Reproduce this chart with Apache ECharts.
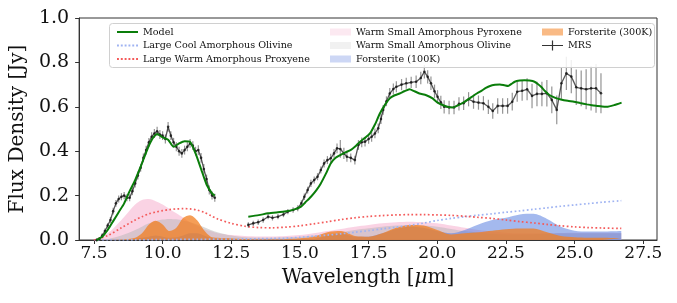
<!DOCTYPE html>
<html><head><meta charset="utf-8">
<script src="https://cdn.jsdelivr.net/npm/echarts@6/dist/echarts.min.js"></script>
<style>html,body{margin:0;padding:0;background:#fff}#c{width:677px;height:303px}</style>
</head><body><div id="c"></div>
<script>
// ---- data ----
const xTicks = [7.5, 10.0, 12.5, 15.0, 17.5, 20.0, 22.5, 25.0, 27.5];
const yTicks = [0.0, 0.2, 0.4, 0.6, 0.8, 1.0];

// MRS spectrum, channel 1 segment
const mrs1Wl  = [7.6,7.7,7.8,7.9,8.0,8.1,8.2,8.3,8.4,8.5,8.6,8.7,8.8,8.9,9.0,9.1,9.2,9.3,9.4,9.5,9.6,9.7,9.8,9.9,10.0,10.1,10.2,10.3,10.4,10.5,10.6,10.7,10.8,10.9,11.0,11.1,11.2,11.3,11.4,11.5,11.6,11.7,11.8,11.9];
const mrs1Flux= [0.0,0.005,0.02,0.04,0.065,0.09,0.13,0.165,0.185,0.195,0.2,0.19,0.19,0.22,0.255,0.29,0.325,0.37,0.405,0.44,0.465,0.48,0.49,0.475,0.47,0.455,0.51,0.47,0.44,0.42,0.4,0.39,0.405,0.42,0.435,0.425,0.4,0.405,0.37,0.32,0.275,0.225,0.2,0.19];
const mrs1Err = [0.008,0.008,0.01,0.012,0.012,0.014,0.015,0.015,0.016,0.016,0.016,0.016,0.016,0.018,0.018,0.018,0.018,0.02,0.02,0.02,0.02,0.02,0.02,0.02,0.02,0.02,0.022,0.02,0.02,0.02,0.02,0.02,0.02,0.02,0.02,0.02,0.02,0.022,0.022,0.022,0.02,0.02,0.018,0.018];

// MRS spectrum, channels 2-4 segment
const mrs2Wl  = [13.12,13.3,13.48,13.66,13.84,14.0,14.2,14.4,14.56,14.75,14.92,15.05,15.16,15.28,15.4,15.52,15.64,15.76,15.88,16.0,16.12,16.24,16.35,16.47,16.6,16.71,16.85,17.0,17.13,17.25,17.37,17.5,17.61,17.73,17.85,17.95,18.03,18.15,18.27,18.4,18.51,18.7,18.87,19.05,19.23,19.4,19.53,19.65,19.77,19.9,20.01,20.13,20.25,20.43,20.61,20.79,20.96,21.14,21.32,21.5,21.68,21.86,22.02,22.2,22.38,22.56,22.73,22.91,23.09,23.27,23.45,23.63,23.81,23.99,24.17,24.35,24.52,24.7,24.88,25.06,25.24,25.42,25.6,25.78,25.96];
const mrs2Flux= [0.068,0.075,0.08,0.09,0.105,0.1,0.105,0.115,0.128,0.135,0.143,0.165,0.195,0.225,0.255,0.27,0.285,0.315,0.345,0.36,0.368,0.39,0.413,0.41,0.39,0.375,0.37,0.36,0.428,0.44,0.443,0.455,0.465,0.48,0.503,0.545,0.586,0.625,0.66,0.68,0.69,0.7,0.706,0.71,0.713,0.73,0.758,0.735,0.706,0.67,0.645,0.62,0.6,0.597,0.597,0.613,0.616,0.634,0.623,0.619,0.616,0.6,0.581,0.604,0.604,0.604,0.623,0.668,0.672,0.679,0.649,0.658,0.658,0.661,0.631,0.586,0.706,0.751,0.736,0.688,0.683,0.679,0.683,0.683,0.661];
const mrs2Err = [0.012,0.012,0.012,0.012,0.012,0.012,0.012,0.012,0.012,0.012,0.014,0.014,0.015,0.015,0.016,0.016,0.016,0.016,0.018,0.018,0.02,0.02,0.022,0.04,0.025,0.022,0.02,0.02,0.022,0.022,0.022,0.022,0.022,0.022,0.022,0.022,0.022,0.022,0.025,0.025,0.025,0.025,0.025,0.025,0.028,0.028,0.03,0.03,0.03,0.03,0.03,0.03,0.03,0.03,0.03,0.03,0.03,0.032,0.032,0.032,0.032,0.032,0.035,0.035,0.035,0.035,0.04,0.045,0.045,0.05,0.055,0.055,0.055,0.06,0.06,0.065,0.07,0.075,0.075,0.08,0.08,0.09,0.1,0.11,0.09];

// Model
const model1Wl  = [7.6,7.8,8.0,8.2,8.4,8.6,8.8,9.0,9.2,9.4,9.6,9.8,10.0,10.2,10.4,10.6,10.8,11.0,11.2,11.4,11.6,11.8,11.9];
const model1Flux= [0.0,0.015,0.045,0.085,0.125,0.165,0.22,0.27,0.33,0.395,0.45,0.478,0.462,0.452,0.42,0.435,0.445,0.442,0.39,0.32,0.25,0.21,0.2];
const model2Wl  = [13.12,13.5,13.84,14.2,14.44,14.8,15.04,15.2,15.4,15.6,15.76,15.95,16.12,16.3,16.48,16.66,16.84,17.0,17.19,17.37,17.55,17.73,17.91,18.1,18.27,18.45,18.63,18.8,18.99,19.17,19.35,19.6,19.83,20.0,20.19,20.37,20.55,20.73,20.9,21.08,21.26,21.44,21.62,21.77,21.92,22.1,22.28,22.45,22.58,22.7,22.82,23.0,23.18,23.36,23.54,23.66,23.78,23.93,24.08,24.3,24.5,24.75,24.98,25.2,25.45,25.63,25.81,26.0,26.17,26.45,26.71];
const model2Flux= [0.105,0.112,0.12,0.125,0.128,0.138,0.15,0.17,0.195,0.225,0.255,0.3,0.345,0.37,0.383,0.395,0.405,0.42,0.443,0.46,0.48,0.52,0.57,0.61,0.638,0.652,0.66,0.67,0.679,0.67,0.66,0.652,0.638,0.62,0.608,0.6,0.597,0.605,0.616,0.63,0.645,0.66,0.673,0.685,0.694,0.699,0.701,0.697,0.694,0.703,0.713,0.718,0.72,0.718,0.713,0.703,0.69,0.67,0.653,0.64,0.633,0.627,0.623,0.617,0.611,0.607,0.604,0.601,0.6,0.608,0.619];

// Dust components (shared wavelength grid)
const compWl = [7.5,8.0,8.5,9.0,9.25,9.5,9.75,10.0,10.25,10.5,10.75,11.0,11.25,11.5,11.75,12.0,12.5,13.0,13.5,14.0,14.5,15.0,15.5,16.0,16.5,17.0,17.5,18.0,18.5,19.0,19.5,20.0,20.5,21.0,21.5,22.0,22.5,23.0,23.5,24.0,24.5,25.0,25.5,26.0,26.7];
const largeCoolOlivine = [0,0,0,0.001,0.001,0.001,0.002,0.002,0.002,0.002,0.003,0.003,0.003,0.003,0.004,0.004,0.004,0.005,0.006,0.007,0.008,0.012,0.017,0.022,0.028,0.035,0.042,0.05,0.058,0.066,0.076,0.088,0.097,0.105,0.112,0.118,0.125,0.131,0.138,0.145,0.152,0.158,0.164,0.17,0.177];
const largeWarmPyroxene = [0,0.02,0.055,0.09,0.105,0.118,0.126,0.132,0.137,0.14,0.141,0.14,0.135,0.125,0.11,0.095,0.075,0.062,0.056,0.055,0.058,0.064,0.073,0.082,0.092,0.1,0.106,0.11,0.113,0.114,0.114,0.113,0.111,0.107,0.102,0.097,0.09,0.083,0.077,0.07,0.064,0.059,0.056,0.054,0.052];
const warmSmallPyroxene = [0,0.03,0.09,0.16,0.18,0.185,0.175,0.16,0.14,0.12,0.1,0.08,0.065,0.05,0.04,0.03,0.022,0.018,0.016,0.016,0.018,0.022,0.03,0.04,0.05,0.06,0.068,0.075,0.08,0.082,0.08,0.075,0.065,0.055,0.045,0.038,0.033,0.03,0.03,0.03,0.032,0.033,0.033,0.033,0.032];
const warmSmallOlivine = [0,0.005,0.02,0.045,0.06,0.075,0.085,0.092,0.095,0.093,0.088,0.08,0.07,0.058,0.045,0.035,0.02,0.012,0.01,0.01,0.012,0.015,0.02,0.028,0.035,0.045,0.053,0.06,0.065,0.067,0.065,0.06,0.05,0.04,0.033,0.028,0.025,0.025,0.026,0.028,0.03,0.03,0.03,0.03,0.03];
const forsterite100 = [0,0,0,0.005,0.01,0.015,0.02,0.015,0.01,0.012,0.02,0.03,0.03,0.02,0.01,0.006,0.004,0.003,0.003,0.003,0.004,0.004,0.005,0.02,0.03,0.015,0.015,0.03,0.05,0.06,0.055,0.04,0.03,0.045,0.07,0.09,0.1,0.115,0.118,0.095,0.06,0.042,0.038,0.038,0.04];
const forsterite300 = [0,0,0.002,0.01,0.03,0.07,0.087,0.07,0.04,0.055,0.1,0.112,0.09,0.045,0.015,0.01,0.008,0.004,0.003,0.003,0.005,0.008,0.015,0.035,0.04,0.018,0.015,0.03,0.055,0.068,0.065,0.045,0.025,0.03,0.035,0.042,0.048,0.052,0.052,0.035,0.018,0.012,0.01,0.01,0.008];

// ---- build ----
const zip = (a, b) => a.map((v, i) => [v, b[i]]);
const zip3 = (a, b, c) => a.map((v, i) => [v, b[i], c[i]]);
const SERIF = '"DejaVu Serif", serif';

function area(name, ys, color, opacity, z) {
  return {
    name, type: 'line', data: zip(compWl, ys), smooth: 0.3, symbol: 'none',
    lineStyle: { width: 0 }, itemStyle: { color: color, opacity: opacity },
    areaStyle: { color: color, opacity: opacity, origin: 'start' }, z: z, silent: true
  };
}
function dotted(name, ys, color, z) {
  return {
    name, type: 'line', data: zip(compWl, ys), smooth: 0.3, symbol: 'none',
    lineStyle: { width: 1.7, type: [1.7, 2.4], color: color }, itemStyle: { color: color }, z: z, silent: true
  };
}
function errBars(wl, fl, er) {
  return {
    name: 'MRS', type: 'custom', data: zip3(wl, fl, er), z: 6, silent: true,
    renderItem: function (params, api) {
      const x = api.value(0), y = api.value(1), e = api.value(2);
      const lo = api.coord([x, y - e]), hi = api.coord([x, y + e]);
      return { type: 'line', shape: { x1: lo[0], y1: lo[1], x2: hi[0], y2: hi[1] },
               style: { stroke: 'rgba(60,60,60,0.55)', lineWidth: 1.2 } };
    }
  };
}
function mrsLine(wl, fl) {
  return {
    name: 'MRS', type: 'line', data: zip(wl, fl), symbol: 'circle', symbolSize: 2.6,
    lineStyle: { width: 1.3, color: 'rgba(30,30,30,0.75)' },
    itemStyle: { color: 'rgba(20,20,20,0.8)' }, z: 7, silent: true
  };
}
function modelLine(wl, fl) {
  return {
    name: 'Model', type: 'line', data: zip(wl, fl), smooth: 0.2, symbol: 'none',
    lineStyle: { width: 2, color: '#0a7d0a' }, itemStyle: { color: '#0a7d0a' }, z: 8, silent: true
  };
}

const dots = () => 'path://' + [0,4,8,12,16,20].map(x => 'M' + x + ',0h2v2h-2z').join('');
const legendBase = {
  orient: 'vertical', top: 22, itemWidth: 21, itemHeight: 10, itemGap: 3.5,
  selectedMode: false, textStyle: { fontFamily: SERIF, fontSize: 9.6, color: '#111' }
};

const option = {
  animation: false,
  backgroundColor: '#fff',
  grid: { left: 72, top: 18, right: 20, bottom: 63, show: true, borderColor: '#333', borderWidth: 1, containLabel: false },
  xAxis: {
    type: 'value', min: 6.96, max: 28.0,
    name: 'Wavelength [{i|μ}m]', nameLocation: 'middle', nameGap: 28,
    nameTextStyle: { fontFamily: SERIF, fontSize: 20, color: '#111', rich: { i: { fontFamily: SERIF, fontSize: 20, fontStyle: 'italic', color: '#111' } } },
    axisLine: { lineStyle: { color: '#333' } },
    axisTick: { show: true, length: 4, lineStyle: { color: '#333' }, customValues: xTicks },
    axisLabel: { fontFamily: SERIF, fontSize: 17, color: '#111', margin: 5, customValues: xTicks, formatter: v => v.toFixed(1) },
    splitLine: { show: false }
  },
  yAxis: {
    type: 'value', min: 0, max: 1.0, interval: 0.2,
    name: 'Flux Density [Jy]', nameLocation: 'middle', nameGap: 49,
    nameTextStyle: { fontFamily: SERIF, fontSize: 20, color: '#111' },
    axisLine: { show: true, lineStyle: { color: '#333' } },
    axisTick: { show: true, length: 4, lineStyle: { color: '#333' } },
    axisLabel: { fontFamily: SERIF, fontSize: 19, color: '#111', margin: 10, formatter: v => v.toFixed(1) },
    splitLine: { show: false }
  },
  graphic: [{
    type: 'rect', left: 109, top: 23, shape: { width: 545, height: 44, r: 3 },
    style: { fill: 'rgba(255,255,255,0.85)', stroke: '#d0d0d0', lineWidth: 1 }, z: 50, silent: true
  }],
  legend: [
    Object.assign({}, legendBase, { left: 112, z: 60, data: [
      { name: 'Model', icon: 'path://M0,0h21v2h-21z', itemStyle: { color: '#0a7d0a' } },
      { name: 'Large Cool Amorphous Olivine', icon: dots(), itemStyle: { color: '#9fb3f2' } },
      { name: 'Large Warm Amorphous Proxyene', icon: dots(), itemStyle: { color: '#f45a5a' } }
    ]}),
    Object.assign({}, legendBase, { left: 325, z: 60, data: [
      { name: 'Warm Small Amorphous Pyroxene', icon: 'path://M0,0h21v7h-21z', itemStyle: { color: '#fadbe8' } },
      { name: 'Warm Small Amorphous Olivine', icon: 'path://M0,0h21v7h-21z', itemStyle: { color: '#e3e3e3' } },
      { name: 'Forsterite (100K)', icon: 'path://M0,0h21v7h-21z', itemStyle: { color: '#a4b6ec' } }
    ]}),
    Object.assign({}, legendBase, { left: 537, z: 60, data: [
      { name: 'Forsterite (300K)', icon: 'path://M0,0h21v7h-21z', itemStyle: { color: '#f7a35c' } },
      { name: 'MRS', icon: 'path://M0,4.4h21v1.2h-21zM9.9,0h1.2v10h-1.2z', itemStyle: { color: '#333' } }
    ]})
  ],
  series: [
    area('Warm Small Amorphous Pyroxene', warmSmallPyroxene, '#f7b6d2', 0.6, 1),
    area('Warm Small Amorphous Olivine', warmSmallOlivine, '#b5b5b5', 0.5, 2),
    area('Forsterite (100K)', forsterite100, '#5a7fe0', 0.55, 3),
    area('Forsterite (300K)', forsterite300, '#f27d1f', 0.75, 4),
    dotted('Large Cool Amorphous Olivine', largeCoolOlivine, '#9fb3f2', 5),
    dotted('Large Warm Amorphous Proxyene', largeWarmPyroxene, '#f45a5a', 5),
    errBars(mrs1Wl, mrs1Flux, mrs1Err),
    errBars(mrs2Wl, mrs2Flux, mrs2Err),
    mrsLine(mrs1Wl, mrs1Flux),
    mrsLine(mrs2Wl, mrs2Flux),
    modelLine(model1Wl, model1Flux),
    modelLine(model2Wl, model2Flux)
  ]
};
const chart = echarts.init(document.getElementById('c'), null, { renderer: 'canvas' });
chart.setOption(option);
</script></body></html>
